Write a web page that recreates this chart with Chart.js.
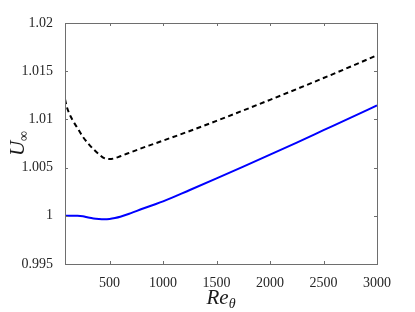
<!DOCTYPE html>
<html>
<head>
<meta charset="utf-8">
<script src="https://cdn.jsdelivr.net/npm/chart.js@4"></script>
<style>
  html, body { margin: 0; padding: 0; background: #fff; }
  #wrap { width: 415px; height: 312px; }
</style>
</head>
<body>
<div id="wrap"><canvas id="grafico" width="415" height="312"></canvas></div>
<script>
// Dados
const reTheta = [83, 100, 150, 200, 250, 300, 350, 400, 450, 500, 550, 600, 700, 800, 900, 1000, 1250, 1500, 1750, 2000, 2250, 2500, 2750, 3000];
const uDashed = [1.0121, 1.0113, 1.0100, 1.0091, 1.0082, 1.0075, 1.0069, 1.0064, 1.00598, 1.00588, 1.00598, 1.00618, 1.0066, 1.00702, 1.00741, 1.0078, 1.0088, 1.00985, 1.01093, 1.01203, 1.01315, 1.01429, 1.01546, 1.01665];
const uSolid  = [1.0000, 1.0000, 1.0000, 1.0000, 0.99995, 0.99982, 0.99972, 0.99967, 0.99965, 0.99968, 0.99977, 0.9999, 1.00028, 1.0007, 1.0011, 1.0015, 1.00268, 1.00388, 1.0051, 1.00634, 1.0076, 1.00888, 1.01016, 1.01145];
const xTicks = [500, 1000, 1500, 2000, 2500, 3000];
const yTicks = [0.995, 1, 1.005, 1.01, 1.015, 1.02];

const serif = '"Liberation Serif", "DejaVu Serif", serif';
const corEixo = '#6e6e6e';

// Caixa, marcas internas e títulos dos eixos
const caixaPlugin = {
  id: 'caixa',
  afterDraw(chart) {
    const { ctx, chartArea: a, scales } = chart;
    ctx.save();
    ctx.strokeStyle = corEixo;
    ctx.lineWidth = 1;
    ctx.strokeRect(a.left + 0.5, a.top + 0.5, a.right - a.left, a.bottom - a.top);
    ctx.beginPath();
    xTicks.forEach(v => {
      const px = Math.round(scales.x.getPixelForValue(v)) + 0.5;
      ctx.moveTo(px, a.bottom); ctx.lineTo(px, a.bottom - 3);
      ctx.moveTo(px, a.top); ctx.lineTo(px, a.top + 3);
    });
    yTicks.forEach(v => {
      const py = Math.round(scales.y.getPixelForValue(v)) + 0.5;
      ctx.moveTo(a.left, py); ctx.lineTo(a.left + 3, py);
      ctx.moveTo(a.right, py); ctx.lineTo(a.right - 3, py);
    });
    ctx.stroke();

    // Título x: Re_θ
    ctx.fillStyle = '#1a1a1a';
    ctx.textBaseline = 'alphabetic';
    ctx.font = 'italic 21px ' + serif;
    const wRe = ctx.measureText('Re').width;
    ctx.font = 'italic 14px ' + serif;
    const wTh = ctx.measureText('θ').width;
    const cx = (a.left + a.right) / 2;
    let x0 = cx - (wRe + wTh) / 2;
    ctx.font = 'italic 21px ' + serif;
    ctx.fillText('Re', x0, 304);
    ctx.font = 'italic 14px ' + serif;
    ctx.fillText('θ', x0 + wRe, 308);

    // Título y: U∞
    ctx.translate(24, (a.top + a.bottom) / 2);
    ctx.rotate(-Math.PI / 2);
    ctx.font = 'italic 21px ' + serif;
    const wU = ctx.measureText('U').width;
    ctx.font = '14px ' + serif;
    const wInf = ctx.measureText('∞').width;
    x0 = -(wU + wInf) / 2;
    ctx.font = 'italic 21px ' + serif;
    ctx.fillText('U', x0, 0);
    ctx.font = '14px ' + serif;
    ctx.fillText('∞', x0 + wU, 4);
    ctx.restore();
  }
};

const data = {
  datasets: [
    {
      label: 'tracejada',
      data: reTheta.map((r, i) => ({ x: r, y: uDashed[i] })),
      borderColor: '#000000',
      borderWidth: 2,
      borderDash: [5, 3.5],
      pointRadius: 0,
      cubicInterpolationMode: 'monotone'
    },
    {
      label: 'continua',
      data: reTheta.map((r, i) => ({ x: r, y: uSolid[i] })),
      borderColor: '#0000ff',
      borderWidth: 2,
      pointRadius: 0,
      cubicInterpolationMode: 'monotone'
    }
  ]
};

const config = {
  type: 'line',
  data: data,
  options: {
    responsive: false,
    animation: false,
    layout: { padding: { left: 0, top: 23, right: 38, bottom: 0 } },
    plugins: {
      legend: { display: false },
      tooltip: { enabled: false }
    },
    scales: {
      x: {
        type: 'linear',
        min: 83,
        max: 3000,
        afterBuildTicks: scale => { scale.ticks = xTicks.map(v => ({ value: v })); },
        afterFit: scale => { scale.height = 48; },
        grid: { display: false },
        border: { display: false },
        ticks: {
          color: '#262626',
          font: { family: serif, size: 14 },
          padding: 3,
          maxRotation: 0,
          callback: v => String(v)
        }
      },
      y: {
        type: 'linear',
        min: 0.995,
        max: 1.02,
        afterBuildTicks: scale => { scale.ticks = yTicks.map(v => ({ value: v })); },
        afterFit: scale => { scale.width = 65; },
        grid: { display: false },
        border: { display: false },
        ticks: {
          color: '#262626',
          font: { family: serif, size: 14 },
          padding: 4,
          callback: v => String(parseFloat(v.toFixed(4)))
        }
      }
    }
  },
  plugins: [caixaPlugin]
};

const ctx = document.getElementById('grafico').getContext('2d');
const grafico = new Chart(ctx, config);
</script>
</body>
</html>
